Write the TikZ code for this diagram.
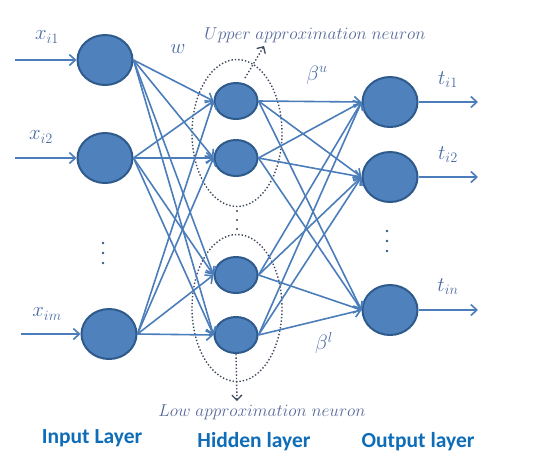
\documentclass[tikz,border=0pt]{standalone}
\usepackage{fontspec}
\newfontfamily\carlitofont{Carlito}
\usetikzlibrary{shapes.geometric,arrows.meta}
\definecolor{nodefill}{HTML}{4F81BD}
\definecolor{nodedraw}{HTML}{2E5A8C}
\definecolor{edgecol}{HTML}{4A7DBA}
\definecolor{mathcol}{HTML}{4A6CA3}
\definecolor{italcol}{HTML}{56699A}
\definecolor{dotcol}{HTML}{3E4A5E}
\definecolor{layercol}{HTML}{0F6DB8}
\tikzset{
  bigneuron/.style={ellipse, fill=nodefill, draw=nodedraw, line width=2pt, minimum width=55pt, minimum height=50pt, inner sep=0pt},
  smallneuron/.style={ellipse, fill=nodefill, draw=nodedraw, line width=2pt, minimum width=43pt, minimum height=36pt, inner sep=0pt},
  conn/.style={draw=edgecol, line width=1.6pt, -{Straight Barb[length=6pt,width=11pt,line width=1.6pt]}},
  group/.style={ellipse, draw=dotcol, dotted, line width=1.4pt, minimum width=90pt, minimum height=147pt, inner sep=0pt},
  dotarrow/.style={draw=dotcol, dotted, line width=1.4pt, -{Straight Barb[length=5pt,width=10pt,line width=1.3pt]}},
  mathlbl/.style={text=mathcol, font=\fontsize{22}{26}\selectfont, inner sep=0pt},
  italbl/.style={text=italcol, font=\fontsize{16}{19}\selectfont, inner sep=0pt},
  layerlbl/.style={text=layercol, font=\carlitofont\bfseries\fontsize{21.5}{25}\selectfont, inner sep=0pt},
  vdot/.style={circle, fill=#1, inner sep=0pt, minimum size=2.8pt}
}
\begin{document}
\begin{tikzpicture}[x=1pt,y=-1pt]
\useasboundingbox (0,0) rectangle (559,467);
% groups
\node[group] (gu) at (237,133) {};
\node[group] (gl) at (237,308) {};
% neurons
\node[bigneuron] (i1) at (105,60) {};
\node[bigneuron] (i2) at (105,158) {};
\node[bigneuron] (i3) at (109,334) {};
\node[smallneuron] (h1) at (236,101) {};
\node[smallneuron] (h2) at (236,158) {};
\node[smallneuron] (h3) at (236,275) {};
\node[smallneuron] (h4) at (236,335) {};
\node[bigneuron] (o1) at (390,102) {};
\node[bigneuron] (o2) at (390,177) {};
\node[bigneuron] (o3) at (390,310) {};
% input/output ends
\coordinate (in1) at (15,60);
\coordinate (in2) at (15,158);
\coordinate (in3) at (21,334);
\coordinate (out1) at (478,102);
\coordinate (out2) at (478,177);
\coordinate (out3) at (478,310);
\draw[conn] (in1) -- (i1.west);
\draw[conn] (in2) -- (i2.west);
\draw[conn] (in3) -- (i3.west);
\draw[conn] (o1.east) -- (out1);
\draw[conn] (o2.east) -- (out2);
\draw[conn] (o3.east) -- (out3);
% full connections
\foreach \a in {i1,i2,i3}{
  \foreach \b in {h1,h2,h3,h4}{
    \draw[conn] (\a.east) -- (\b.west);
  }
}
\foreach \a in {h1,h2,h3,h4}{
  \foreach \b in {o1,o2,o3}{
    \draw[conn] (\a.east) -- (\b.west);
  }
}
% dots
\node[vdot=nodedraw] (di1) at (103,243) {};
\node[vdot=nodedraw] (di2) at (103,253) {};
\node[vdot=nodedraw] (di3) at (103,263) {};
\node[vdot=nodedraw] (do1) at (387,231) {};
\node[vdot=nodedraw] (do2) at (387,241) {};
\node[vdot=nodedraw] (do3) at (387,251) {};
\node[vdot=dotcol, minimum size=2.2pt] (dh1) at (237,211) {};
\node[vdot=dotcol, minimum size=2.2pt] (dh2) at (237,220) {};
\node[vdot=dotcol, minimum size=2.2pt] (dh3) at (237,229) {};
% dotted annotation arrows
\coordinate (ua) at (245,78);
\coordinate (ub) at (264,46);
\draw[dotarrow] (ua) -- (ub);
\coordinate (lb) at (237,401);
\draw[dotarrow] (h4.south) -- (lb);
% labels
\node[mathlbl] (lx1) at (47,37) {$x_{i1}$};
\node[mathlbl] (lx2) at (41,137) {$x_{i2}$};
\node[mathlbl] (lxm) at (47,314) {$x_{im}$};
\node[mathlbl] (lt1) at (448,80) {$t_{i1}$};
\node[mathlbl] (lt2) at (448,155) {$t_{i2}$};
\node[mathlbl] (ltn) at (448,287) {$t_{in}$};
\node[mathlbl] (lw) at (178,49) {$w$};
\node[mathlbl] (lbu) at (317,75) {$\beta^{u}$};
\node[mathlbl] (lbl) at (324,343) {$\beta^{l}$};
\node[italbl] (lup) at (315,35) {$Upper\ approximation\ neuron$};
\node[italbl] (llow) at (262,412) {$Low\ approximation\ neuron$};
\node[layerlbl] (lin) at (92,438) {Input Layer};
\node[layerlbl] (lhid) at (254,442) {Hidden layer};
\node[layerlbl] (lout) at (418,442) {Output layer};
\end{tikzpicture}
\end{document}
